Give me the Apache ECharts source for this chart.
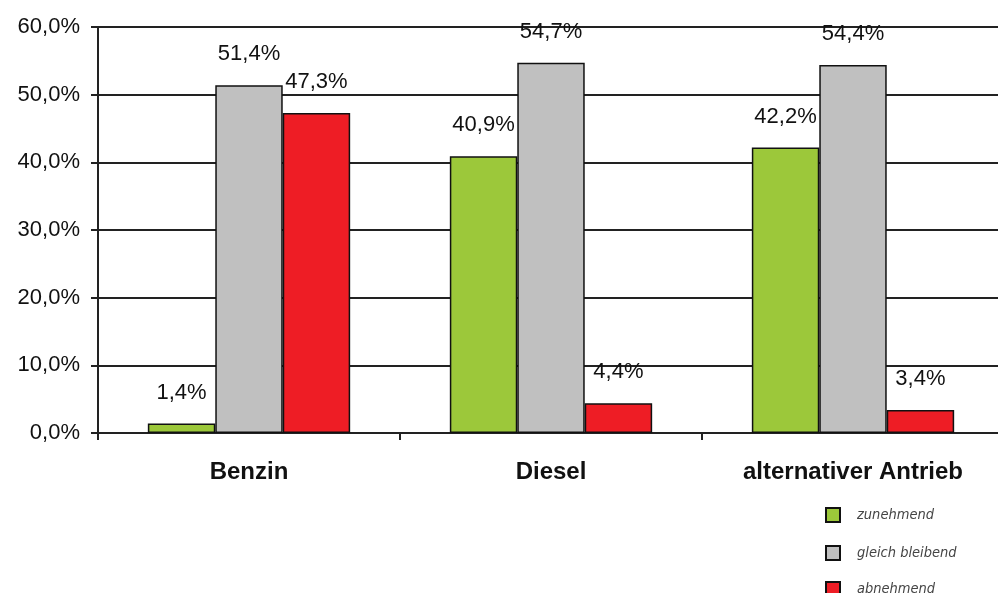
<!DOCTYPE html>
<html><head><meta charset="utf-8">
<script src="https://cdn.jsdelivr.net/npm/echarts@6/dist/echarts.min.js"></script>
<style>html,body{margin:0;padding:0;background:#fff}#c{width:998px;height:593px}</style>
</head><body><div id="c"></div>
<script>
const categories = ['Benzin', 'Diesel', 'alternativer Antrieb'];
const seriesNames = ['zunehmend', 'gleich bleibend', 'abnehmend'];
const zunehmend = [1.4, 40.9, 42.2];
const gleichBleibend = [51.4, 54.7, 54.4];
const abnehmend = [47.3, 4.4, 3.4];
const yTicks = [0, 10, 20, 30, 40, 50, 60];
const colors = ['#9CC83A', '#C0C0C0', '#EE1D25'];

const fmt = v => v.toFixed(1).replace('.', ',') + '%';
const dataSets = [zunehmend, gleichBleibend, abnehmend];
const legendText = {fontFamily: 'DejaVu Sans Condensed, DejaVu Sans', fontStyle: 'italic', fontSize: 14.5, color: '#444', padding: [0, 0, 0, 12]};

const chart = echarts.init(document.getElementById('c'), null, {renderer: 'canvas'});
chart.setOption({
  backgroundColor: '#fff',
  animation: false,
  grid: {left: 98, top: 27, right: -6, bottom: 160, containLabel: false, outerBoundsMode: 'none'},
  legend: [
    {orient: 'vertical', left: 820, top: 502, itemGap: 22, itemWidth: 14, itemHeight: 14, icon: 'rect',
     data: seriesNames.slice(0, 2), textStyle: legendText},
    {orient: 'vertical', left: 820, top: 576, itemGap: 22, itemWidth: 14, itemHeight: 14, icon: 'rect',
     data: seriesNames.slice(2), textStyle: legendText}
  ],
  xAxis: {
    type: 'category', data: categories,
    axisLine: {lineStyle: {color: '#222', width: 2}},
    axisTick: {show: true, length: 7, lineStyle: {color: '#222', width: 2}},
    axisLabel: {fontFamily: 'Liberation Sans, Arial', fontWeight: 'bold', fontSize: 24, color: '#111', margin: 27}
  },
  yAxis: {
    type: 'value', min: yTicks[0], max: yTicks[yTicks.length - 1], interval: 10,
    axisLine: {show: true, lineStyle: {color: '#222', width: 2}},
    axisTick: {show: true, length: 7, inside: false, lineStyle: {color: '#222', width: 2}},
    splitLine: {lineStyle: {color: '#222', width: 2}},
    axisLabel: {formatter: fmt, fontFamily: 'Liberation Sans, Arial', fontSize: 22, color: '#111', margin: 18}
  },
  series: seriesNames.map((n, i) => ({
    name: n, type: 'bar', data: dataSets[i],
    barGap: '0%', barCategoryGap: '33%',
    itemStyle: {color: colors[i], borderColor: '#111', borderWidth: 1.5},
    label: {show: true, position: 'top', distance: 20, formatter: p => fmt(p.value),
      fontFamily: 'Liberation Sans, Arial', fontSize: 22, color: '#111'}
  }))
});
</script></body></html>
